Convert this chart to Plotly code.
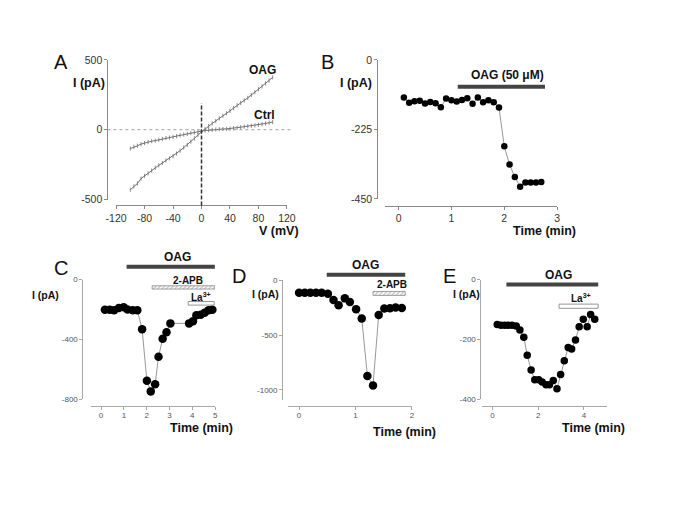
import plotly.graph_objects as go

W, H = 685, 513
FONT = "Arial, Liberation Sans, sans-serif"
PAGE_OFF = 8  # body margin of the html page

# ---------------- data ----------------
# Panel A: I-V ramps
v_mv = list(range(-100, 105, 5))
i_oag = [-430, -405, -385, -350, -330, -312, -292, -272, -255, -238, -220,
         -205, -190, -170, -150, -128, -108, -85, -62, -38, -15,
         5, 25, 45, 62, 82, 100, 118, 135, 155, 175,
         192, 210, 228, 248, 268, 290, 310, 332, 352, 375]
i_ctrl = [-135, -122, -115, -103, -95, -88, -82, -78, -72, -66, -60,
          -56, -52, -46, -40, -35, -30, -24, -20, -14, -10,
          -6, -3, -1, 2, 4, 5, 6, 8, 11, 14,
          18, 22, 25, 28, 31, 35, 40, 45, 50, 55]
a_label_oag = [85, 427]
a_label_ctrl = [89, 105]

# Panel B
t_b = [0.1, 0.2, 0.3, 0.4, 0.5, 0.6, 0.7, 0.8, 0.9, 1.0, 1.1, 1.2, 1.3, 1.4,
       1.5, 1.6, 1.7, 1.8, 1.9, 2.0, 2.1, 2.2, 2.3, 2.4, 2.5, 2.6, 2.7]
i_b = [-122, -139, -134, -132, -141, -136, -140, -153, -125, -131, -135, -130,
       -124, -142, -122, -137, -131, -137, -154, -280, -339, -379, -411, -397,
       -397, -397, -395]

# Panel C
t_c = [0.17, 0.38, 0.57, 0.78, 0.99, 1.16, 1.39, 1.59, 1.80, 2.01, 2.18, 2.37,
       2.52, 2.70, 2.87, 3.04, 3.86, 4.03, 4.18, 4.37, 4.54, 4.71, 4.88]
i_c = [-201, -201, -205, -190, -184, -199, -205, -205, -331, -675, -746, -698,
       -515, -394, -352, -292, -292, -277, -238, -234, -221, -205, -201]

# Panel D
t_d = [0.0, 0.10, 0.20, 0.30, 0.40, 0.51, 0.61, 0.70, 0.81, 0.90, 1.01, 1.11,
       1.21, 1.31, 1.41, 1.51, 1.61, 1.71, 1.82]
i_d = [-114, -114, -114, -114, -114, -123, -180, -228, -165, -198, -264, -348,
       -874, -961, -318, -258, -255, -249, -252]

# Panel E
t_e = [0.21, 0.37, 0.54, 0.69, 0.86, 1.04, 1.20, 1.37, 1.52, 1.69, 1.85, 2.02,
       2.17, 2.34, 2.49, 2.66, 2.82, 2.98, 3.14, 3.31, 3.46, 3.63, 3.79, 3.97,
       4.14, 4.29, 4.47]
i_e = [-150, -153, -153, -153, -153, -155, -169, -193, -253, -303, -335, -335,
       -343, -352, -352, -338, -365, -318, -272, -227, -232, -202, -158, -133,
       -158, -117, -133]

# treatment periods (min)
oag_b = [1.12, 2.77]
oag_c = [1.12, 4.99]
apb_c = [2.24, 4.99]
la_c = [3.82, 4.96]
oag_d = [0.49, 1.88]
apb_d = [1.31, 1.88]
oag_e = [0.61, 4.62]
la_e = [2.91, 4.62]

# tick values
a_xticks = [-120, -80, -40, 0, 40, 80, 120]
a_yticks = [-500, 0, 500]
b_xticks = [0, 1, 2, 3]
b_yticks = [-450, -225, 0]
c_xticks = [0, 1, 2, 3, 4, 5]
c_yticks = [-800, -400, 0]
d_xticks = [0, 1, 2]
d_yticks = [-1000, -500, 0]
e_xticks = [0, 2, 4]
e_yticks = [-400, -200, 0]

# ---------------- layout helpers ----------------
def fx(px):
    return (px - PAGE_OFF) / W

def fy(py):
    return 1 - (py - PAGE_OFF) / H

def dom(v, rng):
    return (v - rng[0]) / (rng[1] - rng[0])

panels = {
    # id: x px domain, y px (top,bottom), x range, y range, x-line y px, y-line x px
    "": dict(xd=(108, 284), yd=(55, 198), xr=[-120, 120], yr=[-500, 500],
             xl=204, yl=99, xt=a_xticks, yt=a_yticks, big=True),
    "2": dict(xd=(385, 562.3), yd=(55, 197.3), xr=[-0.257, 3], yr=[-450, 0],
              xl=204.3, yl=377, xt=b_xticks, yt=b_yticks, big=True),
    "3": dict(xd=(81.7, 210), yd=(280, 402.7), xr=[-0.46, 5], yr=[-800, 0],
              xl=409.8, yl=73.3, xt=c_xticks, yt=c_yticks, big=False),
    "4": dict(xd=(285, 412.8), yd=(280.7, 403), xr=[-0.198, 2], yr=[-1092, 0],
              xl=409.8, yl=279, xt=d_xticks, yt=d_yticks, big=False),
    "5": dict(xd=(485, 613.3), yd=(280, 402.3), xr=[-0.454, 4.99], yr=[-400, 0],
              xl=409.8, yl=483.3, xt=e_xticks, yt=e_yticks, big=False),
}

layout = dict(
    width=W, height=H, margin=dict(l=0, r=0, t=0, b=0),
    paper_bgcolor="white", plot_bgcolor="rgba(0,0,0,0)",
    showlegend=False, font=dict(family=FONT, color="#222"),
)

for k, p in panels.items():
    big = p["big"]
    lc = "#8a8a8a" if big else "#a8a8a8"
    tf = dict(family=FONT, size=10.5 if big else 8, color="#333" if big else "#555")
    layout["xaxis" + k] = dict(
        domain=[fx(p["xd"][0]), fx(p["xd"][1])], range=p["xr"],
        anchor="free", position=fy(p["xl"]), showline=True, linecolor=lc,
        linewidth=1, ticks="outside", ticklen=3, tickcolor=lc,
        tickvals=p["xt"], ticktext=[str(v) for v in p["xt"]], tickfont=tf,
        ticklabelstandoff=0 if big else -2,
        showgrid=False, zeroline=False, fixedrange=True)
    layout["yaxis" + k] = dict(
        domain=[fy(p["yd"][1]), fy(p["yd"][0])], range=p["yr"],
        anchor="free", position=fx(p["yl"]), showline=True, linecolor=lc,
        linewidth=1, ticks="outside", ticklen=3, tickcolor=lc,
        tickvals=p["yt"], ticktext=[str(v) for v in p["yt"]], tickfont=tf,
        showgrid=False, zeroline=False, fixedrange=True)

fig = go.Figure(layout=layout)

LINE_C = "#8c8c8c"
# Panel A traces
for ys in (i_oag, i_ctrl):
    fig.add_trace(go.Scatter(
        x=v_mv, y=ys, mode="lines+markers", xaxis="x", yaxis="y",
        line=dict(color="#707070", width=1),
        marker=dict(symbol="line-ns-open", size=3, line=dict(color="#707070", width=0.8)),
        hoverinfo="skip"))

# time course panels
for k, t, y, ms in (("2", t_b, i_b, 6.5), ("3", t_c, i_c, 8.5),
                    ("4", t_d, i_d, 8.5), ("5", t_e, i_e, 7.5)):
    fig.add_trace(go.Scatter(
        x=t, y=y, mode="lines+markers", xaxis="x" + k, yaxis="y" + k,
        line=dict(color=LINE_C, width=0.9),
        marker=dict(color="black", size=ms), cliponaxis=False, hoverinfo="skip"))

# hatched 2-APB bars (traces with pattern fill)
def hatched(k, period, level, half):
    x0, x1 = period
    fig.add_trace(go.Scatter(
        x=[x0, x1, x1, x0, x0], y=[level - half, level - half, level + half, level + half, level - half],
        xaxis="x" + k, yaxis="y" + k, mode="lines", fill="toself",
        fillcolor="white", line=dict(color="#8a8a8a", width=0.8),
        fillpattern=dict(shape="/", fgcolor="#888888", bgcolor="white", size=3, solidity=0.45),
        hoverinfo="skip"))

hatched("3", apb_c, -52, 11)
hatched("4", apb_d, -120, 18)

shapes = []
# Panel A reference lines
shapes.append(dict(type="line", xref="x domain", yref="y", x0=-0.051, x1=1.023, y0=0, y1=0,
                   line=dict(color="#888", width=0.8, dash="dot")))
shapes.append(dict(type="line", xref="x", yref="y domain", x0=0, x1=0, y0=-0.042,
                   y1=dom(190, panels[""]["yr"]),
                   line=dict(color="#333", width=1.5, dash="4px,2px")))

def bar(k, period, level):
    yr = panels[k]["yr"]
    shapes.append(dict(type="line", xref="x" + k, yref="y" + k + " domain",
                       x0=period[0], x1=period[1], y0=dom(level, yr), y1=dom(level, yr),
                       line=dict(color="#444", width=4)))

def openbar(k, period, level, half):
    yr = panels[k]["yr"]
    shapes.append(dict(type="rect", xref="x" + k, yref="y" + k + " domain",
                       x0=period[0], x1=period[1], y0=dom(level - half, yr), y1=dom(level + half, yr),
                       line=dict(color="#8a8a8a", width=0.9), fillcolor="white"))

bar("2", oag_b, -87)
bar("3", oag_c, 86)
bar("4", oag_d, 51)
bar("5", oag_e, -16)
openbar("3", la_c, -158, 12)
openbar("5", la_e, -89, 7)

fig.update_layout(shapes=shapes)

ann = []

def ptext(txt, px, py, size, bold=False):
    ann.append(dict(text=("<b>%s</b>" % txt) if bold else txt, x=fx(px), y=fy(py),
                    xref="paper", yref="paper", showarrow=False, xanchor="center",
                    yanchor="middle", font=dict(family=FONT, size=size, color="#111")))

def dtext(k, txt, x, level, size, bold=True):
    yr = panels[k]["yr"]
    ann.append(dict(text=("<b>%s</b>" % txt) if bold else txt, x=x, y=dom(level, yr),
                    xref="x" + k, yref="y" + k + " domain", showarrow=False,
                    xanchor="center", yanchor="middle",
                    font=dict(family=FONT, size=size, color="#111")))

# panel letters
for L, px, py in (("A", 51.7, 57), ("B", 326, 57), ("C", 51.7, 268.3),
                  ("D", 235, 276.7), ("E", 451.7, 276)):
    ptext(L, px, py, 20)

# axis titles
ptext("I (pA)", 80, 78.5, 12.5, True)
ptext("V (mV)", 276, 230, 12.5, True)
ptext("I (pA)", 355.5, 78.5, 12.5, True)
ptext("Time (min)", 549.3, 230, 12.5, True)
ptext("I (pA)", 35, 296, 10.5, True)
ptext("Time (min)", 196, 432, 12.5, True)
ptext("I (pA)", 262, 295, 10.5, True)
ptext("Time (min)", 405, 435.5, 12.5, True)
ptext("I (pA)", 469, 295, 10.5, True)
ptext("Time (min)", 600, 432, 12.5, True)

# in-plot labels
dtext("", "OAG", a_label_oag[0], a_label_oag[1], 12)
dtext("", "Ctrl", a_label_ctrl[0], a_label_ctrl[1], 12)
dtext("2", "OAG (50 μM)", 2.07, -50, 12)
dtext("3", "OAG", 3.34, 148, 12)
dtext("3", "2-APB", 3.82, -3, 10)
dtext("3", "La<sup>3+</sup>", 4.39, -113, 10)
dtext("4", "OAG", 1.18, 140, 12)
dtext("4", "2-APB", 1.64, -38, 10)
dtext("5", "OAG", 2.87, 16, 12)
dtext("5", "La<sup>3+</sup>", 3.86, -63, 10)

fig.update_layout(annotations=ann)

fig.write_html("out.html")
